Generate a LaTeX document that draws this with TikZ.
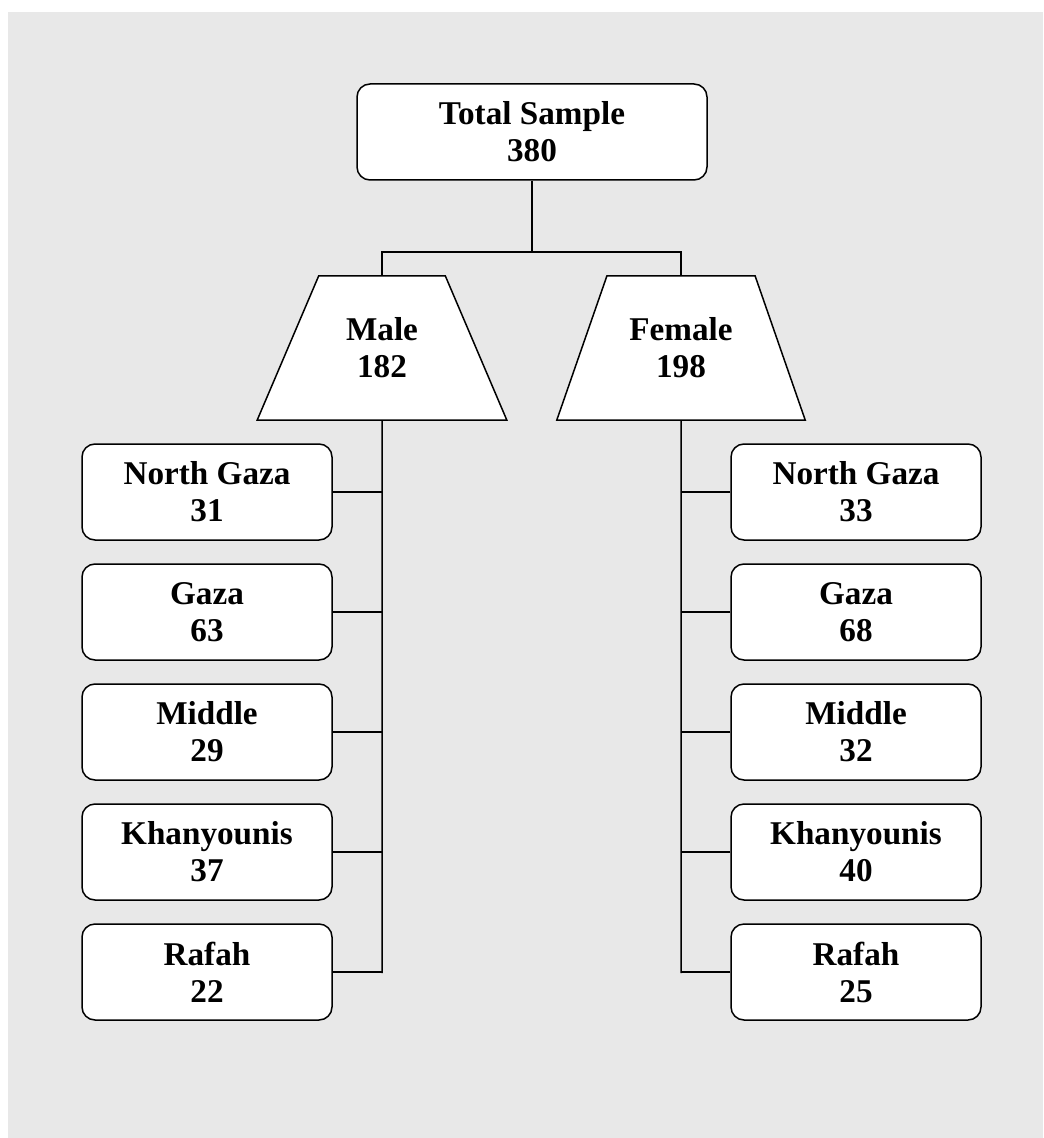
\documentclass[tikz,border=0pt]{standalone}
\usepackage{fontspec}
\setmainfont{Liberation Serif}
\usepackage{tikz}
\usetikzlibrary{shapes.geometric}
\definecolor{paneGray}{HTML}{E8E8E8}
\tikzset{
	box/.style={draw, thick, fill=white, rounded corners=6.5pt, minimum width=125pt, minimum height=48pt,
		inner sep=0pt, align=center, font=\bfseries\fontsize{16.6}{18.5}\selectfont},
	trap/.style={draw, thick, fill=white, trapezium, trapezium left angle=60, trapezium right angle=60,
		trapezium stretches=true, minimum width=125pt, minimum height=72pt, inner sep=0pt,
		align=center, font=\bfseries\fontsize{16.6}{18.5}\selectfont},
	link/.style={thick, black}
}

\begin{document}
\begin{tikzpicture}[x=0.5pt, y=-0.5pt, thick/.style={line width=0.75pt}]
	\useasboundingbox (0,0) rectangle (1043,1138);
	\fill[paneGray] (8,12) rectangle (1043,1138);
	% top of the tree
	\node[box, minimum width=175pt] (total) at (532,132) {Total Sample\\380};
	\node[trap] (male) at (382,348) {Male\\182};
	\node[trap] (female) at (681,348) {Female\\198};
	\coordinate (split) at (532,252);
	\coordinate (mEnd) at (382,973);
	\coordinate (fEnd) at (681,973);
	\draw[link] (total.south) -- (split);
	\draw[link] (male.north) |- (split) -| (female.north);
	\draw[link] (male.south) -- (mEnd);
	\draw[link] (female.south) -- (fEnd);
	% male side
	\node[box] (mNorth) at (207,492) {North Gaza\\31};
	\node[box] (mGaza) at (207,612) {Gaza\\63};
	\node[box] (mMiddle) at (207,732) {Middle\\29};
	\node[box] (mKhan) at (207,852) {Khanyounis\\37};
	\node[box] (mRafah) at (207,972) {Rafah\\22};
	% female side
	\node[box] (fNorth) at (856,492) {North Gaza\\33};
	\node[box] (fGaza) at (856,612) {Gaza\\68};
	\node[box] (fMiddle) at (856,732) {Middle\\32};
	\node[box] (fKhan) at (856,852) {Khanyounis\\40};
	\node[box] (fRafah) at (856,972) {Rafah\\25};
	\foreach \n in {mNorth, mGaza, mMiddle, mKhan, mRafah}
		\draw[link] (\n.east) -- (\n.east -| male.south);
	\foreach \n in {fNorth, fGaza, fMiddle, fKhan, fRafah}
		\draw[link] (\n.west) -- (\n.west -| female.south);

\end{tikzpicture}
\end{document}
